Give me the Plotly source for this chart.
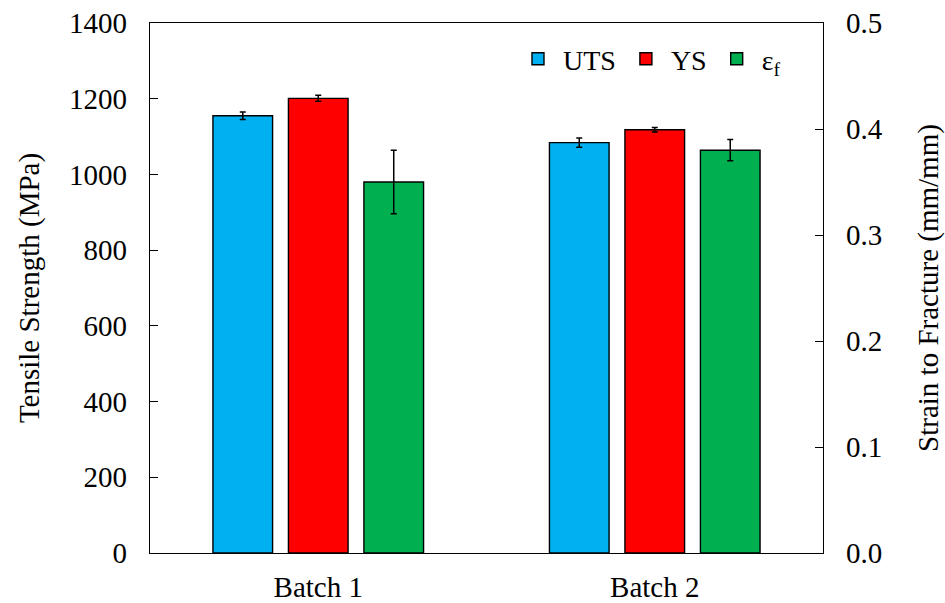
import plotly.graph_objects as go

# Tensile test results for two batches
batches = ["Batch 1", "Batch 2"]
uts = [1155, 1084]          # ultimate tensile strength, MPa
uts_err = [10, 12]
ys = [1201, 1118]           # yield strength, MPa
ys_err = [8, 6]
strain = [0.350, 0.380]     # strain to fracture, mm/mm
strain_err = [0.030, 0.010]

FONT = "Times New Roman, Tinos, Liberation Serif, DejaVu Serif, serif"
FS = 29
BLUE = "#00B0F0"
RED = "#FF0000"
GREEN = "#00B050"

def err(vals):
    return dict(type="data", array=vals, visible=True, color="black",
                thickness=1.5, width=3)

fig = go.Figure()
fig.add_trace(go.Bar(x=batches, y=uts, name="UTS", marker_color=BLUE,
                     marker_line=dict(color="black", width=1.4),
                     error_y=err(uts_err), offsetgroup="1", alignmentgroup="a",
                     yaxis="y"))
fig.add_trace(go.Bar(x=batches, y=ys, name="YS", marker_color=RED,
                     marker_line=dict(color="black", width=1.4),
                     error_y=err(ys_err), offsetgroup="2", alignmentgroup="a",
                     yaxis="y"))
fig.add_trace(go.Bar(x=batches, y=strain, name="ε<sub>f</sub>", marker_color=GREEN,
                     marker_line=dict(color="black", width=1.4),
                     error_y=err(strain_err), offsetgroup="3", alignmentgroup="a",
                     yaxis="y2"))

fig.update_layout(
    width=945, height=603,
    margin=dict(l=150, r=122, t=23, b=50, autoexpand=False),
    paper_bgcolor="white", plot_bgcolor="white",
    font=dict(family=FONT, size=FS, color="black"),
    barmode="group", bargap=0.327, bargroupgap=0.21,
    showlegend=True,
    legend=dict(orientation="h", x=0.945, xanchor="right", y=0.932, yanchor="middle",
                bgcolor="rgba(0,0,0,0)", font=dict(family=FONT, size=28), itemwidth=40,
                traceorder="normal"),
    xaxis=dict(showline=True, linecolor="black", linewidth=1.3, mirror=True,
               ticks="", showgrid=False, ticklabelstandoff=8, automargin=False,
               tickfont=dict(family=FONT, size=FS)),
    yaxis=dict(title=dict(text="Tensile Strength (MPa)", standoff=20,
                          font=dict(family=FONT, size=FS)),
               range=[0, 1400], dtick=200, showline=True, linecolor="black",
               linewidth=1.3, ticks="inside", ticklen=8, tickcolor="black",
               showgrid=False, zeroline=False, ticklabelstandoff=16,
               automargin=False, tickfont=dict(family=FONT, size=FS)),
    yaxis2=dict(title=dict(text="Strain to Fracture (mm/mm)", standoff=37,
                           font=dict(family=FONT, size=FS)),
                range=[0, 0.5], dtick=0.1, tickformat=".1f", overlaying="y",
                side="right", showline=True, linecolor="black", linewidth=1.3,
                ticks="inside", ticklen=8, tickcolor="black", showgrid=False,
                zeroline=False, ticklabelstandoff=16, automargin=False,
                tickfont=dict(family=FONT, size=FS)),
)

fig.write_html("out.html")
